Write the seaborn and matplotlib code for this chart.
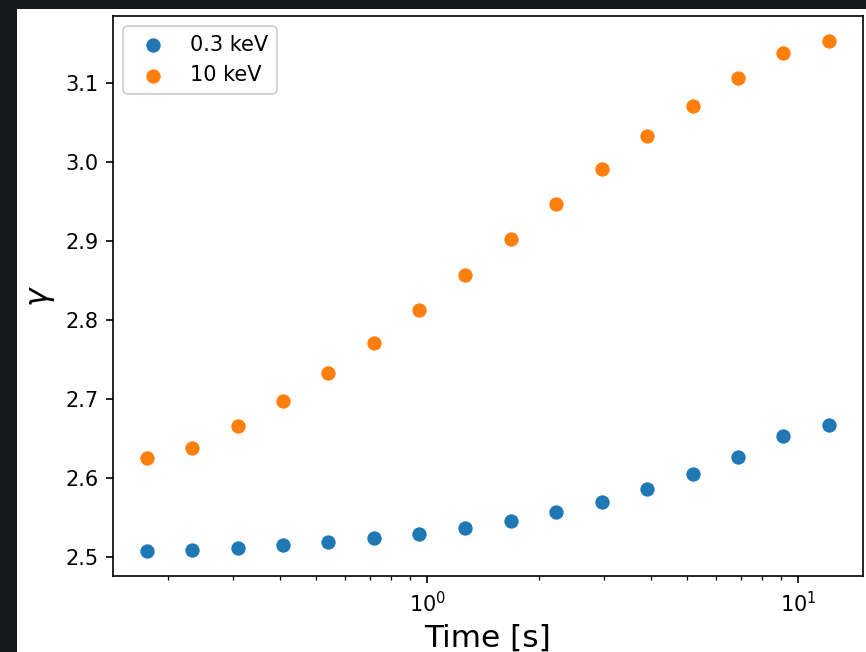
import numpy as np
import pandas as pd
import matplotlib
matplotlib.use('Agg')
import matplotlib.pyplot as plt
import seaborn as sns
from matplotlib.patches import Rectangle

# time bins [s]
time = [0.1755, 0.2326, 0.3083, 0.4085, 0.5411, 0.7186, 0.9515, 1.264,
        1.678, 2.223, 2.952, 3.910, 5.193, 6.878, 9.112, 12.10]

# photon index at 0.3 keV and 10 keV
gamma_low = [2.5085, 2.5097, 2.5123, 2.5152, 2.519, 2.524, 2.5296, 2.537,
             2.546, 2.5566, 2.570, 2.5857, 2.6047, 2.627, 2.6528, 2.667]
gamma_high = [2.6249, 2.638, 2.6654, 2.697, 2.7325, 2.7714, 2.8127, 2.8566,
              2.9018, 2.9465, 2.9904, 3.0322, 3.0697, 3.1056, 3.1372, 3.1519]

labels = ['0.3 keV', '10 keV']

df_low = pd.DataFrame({'time': time, 'gamma': gamma_low})
df_high = pd.DataFrame({'time': time, 'gamma': gamma_high})

dpi = 150
fig = plt.figure(figsize=(866 / dpi, 652 / dpi), dpi=dpi, facecolor='#16181d')
# white figure area (screenshot crop)
bg = Rectangle((17 / 866, 0), 1 - 17 / 866, (652 - 9) / 652,
               transform=fig.transFigure, facecolor='white',
               edgecolor='none', zorder=-10)
fig.add_artist(bg)

ax = fig.add_axes([113 / 866, 76 / 652, 750 / 866, 560 / 652])

sns.scatterplot(data=df_low, x='time', y='gamma', label=labels[0], s=56, ax=ax)
sns.scatterplot(data=df_high, x='time', y='gamma', label=labels[1], s=56, ax=ax)

ax.set_xscale('log')
ax.set_xlabel('Time [s]', fontsize=15)
ax.set_ylabel(r'$\gamma$', fontsize=15)
ax.legend(loc='upper left')

fig.savefig('out.png', dpi=dpi, facecolor=fig.get_facecolor())
